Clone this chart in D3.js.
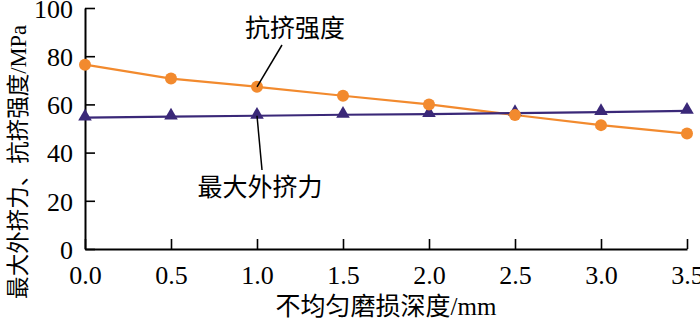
<!DOCTYPE html>
<html>
<head>
<meta charset="utf-8">
<script src="https://cdn.jsdelivr.net/npm/d3@7"></script>
<style>
  body { margin: 0; background: #fff; }
  text { font-family: "Liberation Serif", "Noto Sans CJK SC", serif; fill: #000; }
</style>
</head>
<body>
<div class="chart"></div>
<script>
// 数据
const depths = [0.0, 0.5, 1.0, 1.5, 2.0, 2.5, 3.0, 3.5];
const strength = [76.5, 70.7, 67.3, 63.6, 60.0, 55.6, 51.4, 47.9];   // 抗挤强度
const maxLoad = [54.5, 54.9, 55.3, 55.7, 56.0, 56.4, 56.8, 57.3];    // 最大外挤力
const xTicks = [0, 0.5, 1.0, 1.5, 2.0, 2.5, 3.0, 3.5];
const yTicks = [0, 20, 40, 60, 80, 100];

const width = 700;
const height = 324;
const margin = {left: 85, right: 13, top: 8, bottom: 75};

const orange = "#f28a2e";
const purple = "#3a2878";

const svg = d3.select("div.chart")
    .append("svg")
    .attr("width", width)
    .attr("height", height);

const x = d3.scaleLinear().domain([0, 3.5]).range([margin.left, width - margin.right]);
const y = d3.scaleLinear().domain([0, 100]).range([height - margin.bottom, margin.top]);

// 坐标轴
const xAxis = svg.append("g")
    .attr("transform", "translate(0," + y(0) + ")")
    .call(d3.axisBottom(x).tickValues(xTicks).tickSizeInner(-10).tickSizeOuter(0).tickPadding(17)
        .tickFormat(d3.format(".1f")));
const yAxis = svg.append("g")
    .attr("transform", "translate(" + x(0) + ",0)")
    .call(d3.axisLeft(y).tickValues(yTicks).tickSizeInner(-10).tickSizeOuter(0).tickPadding(12));

for (let ax of [xAxis, yAxis]) {
    ax.select(".domain").attr("stroke", "#000").attr("stroke-width", 2);
    ax.selectAll(".tick line").attr("stroke", "#000").attr("stroke-width", 1.6);
    ax.selectAll(".tick text")
        .style("font-family", "'Liberation Serif', serif")
        .style("font-size", "26px")
        .attr("fill", "#000");
}
yAxis.selectAll(".tick text").attr("dy", "0.36em");

// 轴标题
svg.append("text")
    .attr("x", (x(0) + x(3.5)) / 2)
    .attr("y", 315)
    .attr("text-anchor", "middle")
    .style("font-size", "25px")
    .text("不均匀磨损深度/mm");

svg.append("text")
    .attr("transform", "translate(26," + (height / 2) + ") rotate(-90)")
    .attr("text-anchor", "middle")
    .style("font-size", "22.5px")
    .text("最大外挤力、抗挤强度/MPa");

// 折线
const line = function(vals) {
    return d3.line()
        .x(function(d, i) { return x(depths[i]); })
        .y(function(d) { return y(d); })(vals);
};

svg.append("path")
    .attr("d", line(strength))
    .attr("fill", "none")
    .attr("stroke", orange)
    .attr("stroke-width", 2.2);

svg.append("path")
    .attr("d", line(maxLoad))
    .attr("fill", "none")
    .attr("stroke", purple)
    .attr("stroke-width", 2.2);

svg.append("g")
    .selectAll("path")
    .data(maxLoad)
    .enter()
    .append("path")
    .attr("d", d3.symbol().type(d3.symbolTriangle).size(80))
    .attr("transform", function(d, i) { return "translate(" + x(depths[i]) + "," + (y(d) - 1) + ")"; })
    .attr("fill", purple);

svg.append("g")
    .selectAll("circle")
    .data(strength)
    .enter()
    .append("circle")
    .attr("cx", function(d, i) { return x(depths[i]); })
    .attr("cy", function(d) { return y(d); })
    .attr("r", 6)
    .attr("fill", orange);

// 标注
svg.append("line")
    .attr("x1", 282).attr("y1", 45)
    .attr("x2", x(1.0)).attr("y2", y(strength[2]))
    .attr("stroke", "#000").attr("stroke-width", 1.5);
svg.append("text")
    .attr("x", 295).attr("y", 37)
    .attr("text-anchor", "middle")
    .style("font-size", "25px")
    .text("抗挤强度");

svg.append("line")
    .attr("x1", x(1.0)).attr("y1", y(maxLoad[2]))
    .attr("x2", 262).attr("y2", 170)
    .attr("stroke", "#000").attr("stroke-width", 1.5);
svg.append("text")
    .attr("x", 260).attr("y", 196)
    .attr("text-anchor", "middle")
    .style("font-size", "25px")
    .text("最大外挤力");
</script>
</body>
</html>
